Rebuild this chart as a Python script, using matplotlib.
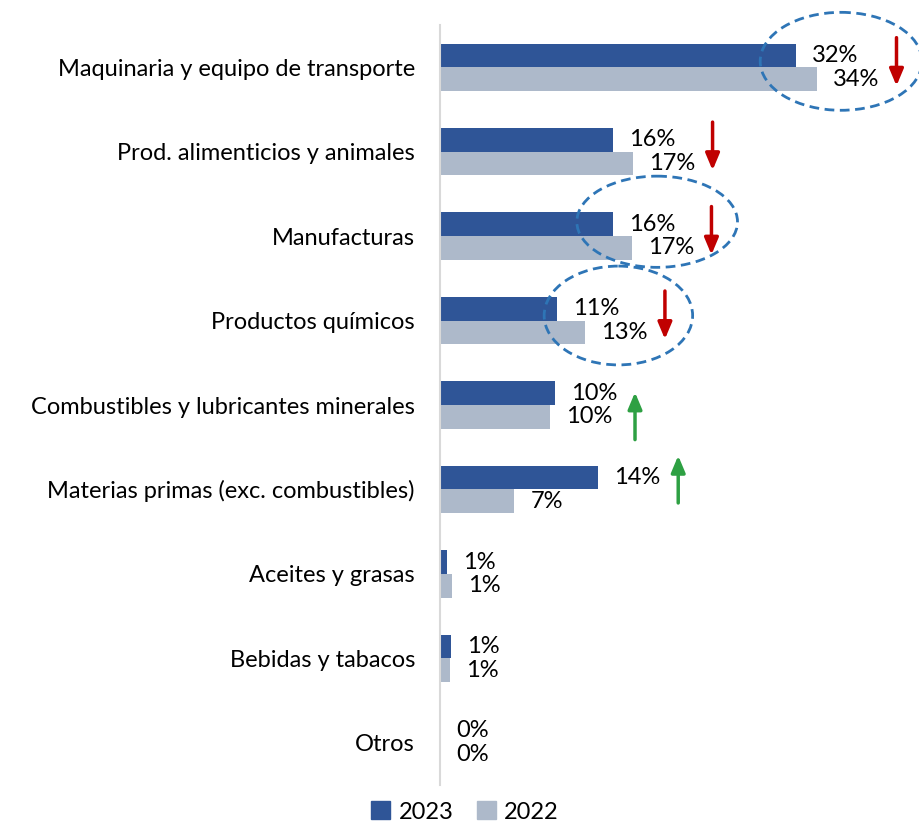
import matplotlib
matplotlib.use("Agg")
import matplotlib.pyplot as plt
from matplotlib.patches import Ellipse, Patch

plt.rcParams['font.family'] = ['Lato', 'DejaVu Sans']

# datos (participación %)
categorias = ["Maquinaria y equipo de transporte", "Prod. alimenticios y animales",
              "Manufacturas", "Productos químicos", "Combustibles y lubricantes minerales",
              "Materias primas (exc. combustibles)", "Aceites y grasas",
              "Bebidas y tabacos", "Otros"]
v2023 = [32.1, 15.6, 15.6, 10.6, 10.4, 14.3, 0.6, 1.0, 0.0]
v2022 = [34.0, 17.4, 17.3, 13.1, 9.9, 6.7, 1.1, 0.9, 0.0]
# variación marcada con flecha: -1 baja, 1 sube, 0 nada
tendencia = [-1, -1, -1, -1, 1, 1, 0, 0, 0]
# categorías resaltadas con elipse
resaltadas = [0, 2, 3]

c2023 = "#2F5597"
c2022 = "#ADB9CA"

fig = plt.figure(figsize=(9.2, 8.22), dpi=100)
ax = fig.add_axes([440/920, 1 - 785/822, 480/920, 760/822])

y = list(range(len(categorias)))
h = 0.28
ax.barh([i - h/2 for i in y], v2023, height=h, color=c2023, label="2023")
ax.barh([i + h/2 for i in y], v2022, height=h, color=c2022, label="2022")

ax.set_xlim(0, 480/11.08)
ax.set_ylim(len(categorias) - 0.5, -0.5)

fs = 17
for i in y:
    ax.text(v2023[i] + 1.45, i - h/2, f"{v2023[i]:.0f}%", va="center", ha="left", fontsize=fs)
    ax.text(v2022[i] + 1.45, i + h/2, f"{v2022[i]:.0f}%", va="center", ha="left", fontsize=fs)

# flechas
estilo = "-|>,head_width=0.42,head_length=1.0"
for i in y:
    if tendencia[i] == 0:
        continue
    xa = max(v2023[i], v2022[i]) + 7.2
    if tendencia[i] < 0:
        ax.annotate("", xy=(xa, i + 0.22), xytext=(xa, i - 0.35),
                    arrowprops=dict(arrowstyle=estilo, color="#C00000", lw=2.5,
                                    shrinkA=0, shrinkB=0))
    else:
        d = 0.25 if i == 4 else 0.0
        ax.annotate("", xy=(xa, i - 0.4 + d), xytext=(xa, i + 0.16 + d),
                    arrowprops=dict(arrowstyle=estilo, color="#2EA043", lw=2.5,
                                    shrinkA=0, shrinkB=0))

# elipses punteadas
elipses = {0: (36.2, -0.07, 14.6, 1.16), 2: (19.6, -0.17, 14.5, 1.08), 3: (16.1, -0.06, 13.4, 1.17)}
for i in resaltadas:
    cx, dy, w, hh = elipses[i]
    ax.add_patch(Ellipse((cx, i + dy), w, hh, fill=False, edgecolor="#2E75B6",
                         lw=2, ls=(0, (3.5, 2)), clip_on=False))

ax.set_yticks(y)
ax.set_yticklabels(categorias, fontsize=fs)
ax.tick_params(axis="y", length=0, pad=18)
ax.set_xticks([])
for s in ["top", "right", "bottom"]:
    ax.spines[s].set_visible(False)
ax.spines["left"].set_color("#D9D9D9")
ax.spines["left"].set_linewidth(1.5)

fig.legend(handles=[Patch(color=c2023, label="2023"), Patch(color=c2022, label="2022")],
           loc="center", bbox_to_anchor=(465/920, 1 - 812/822), ncol=2, frameon=False,
           fontsize=fs, handlelength=0.8, handleheight=0.8, handletextpad=0.35,
           columnspacing=1.0, borderpad=0)

fig.savefig("out.png", dpi=100)
